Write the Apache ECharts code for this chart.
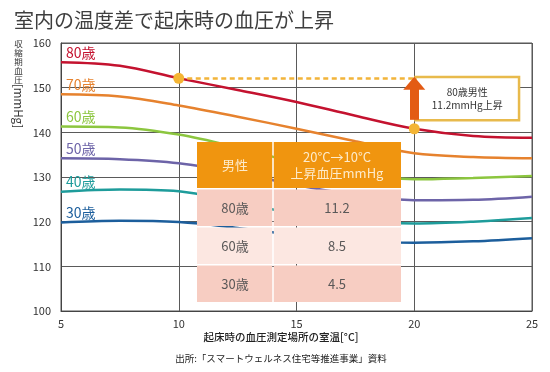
<!DOCTYPE html>
<html><head><meta charset="utf-8">
<script src="https://cdn.jsdelivr.net/npm/echarts@6/dist/echarts.min.js"></script>
<style>html,body{margin:0;padding:0;background:#fff}#c{width:550px;height:372px}</style>
</head><body><div id="c"></div>
<script>
// ---- data ----
const temps = [5, 7.5, 10, 12.5, 15, 17.5, 20, 22.5, 25];
const age80 = [155.7, 154.9, 152.1, 149.5, 146.8, 143.7, 140.8, 139.2, 138.8];
const age70 = [148.5, 148.0, 146.0, 143.5, 140.8, 138.0, 135.3, 134.5, 134.2];
const age60 = [141.3, 141.1, 139.5, 136.6, 133.2, 130.6, 129.5, 129.8, 130.2];
const age50 = [134.2, 134.0, 133.1, 131.0, 128.2, 126.0, 124.8, 124.9, 125.6];
const age40 = [126.7, 127.2, 126.8, 124.3, 121.8, 120.2, 119.6, 120.0, 120.8];
const age30 = [119.8, 120.2, 119.9, 118.6, 117.0, 115.7, 115.3, 115.6, 116.3];
const ageNames = ['80歳', '70歳', '60歳', '50歳', '40歳', '30歳'];
const tableHead = ['男性', '20°C→10°C\n上昇血圧mmHg'];
const tableAges = ['80歳', '60歳', '30歳'];
const tableRise = ['11.2', '8.5', '4.5'];
const riseFrom = [10, 152.1];
const riseTo = [20, 140.8];
const noteLines = ['80歳男性', '11.2mmHg上昇'];
const titleText = '室内の温度差で起床時の血圧が上昇';
const xName = '起床時の血圧測定場所の室温[°C]';
const yNameChars = '収縮期血圧';
const yNameUnit = '[mmHg]';
const sourceText = '出所:「スマートウェルネス住宅等推進事業」資料';

// ---- styles ----
const FONT = '"Noto Sans CJK JP", "Noto Sans", sans-serif';
const colors = ['#C4122F', '#E6822E', '#8CC63F', '#6D64A8', '#1E9C9B', '#1C5E9C'];
const allSeries = [age80, age70, age60, age50, age40, age30];

const series = allSeries.map((vals, k) => ({
  name: ageNames[k],
  type: 'line',
  smooth: 0.35,
  showSymbol: false,
  silent: true,
  z: 3,
  lineStyle: { color: colors[k], width: 2.5 },
  data: temps.map((t, i) => [t, vals[i]]),
  markPoint: {
    z: 4,
    silent: true,
    data: [{
      coord: [temps[0], vals[0]],
      symbol: 'circle', symbolSize: 0,
      label: {
        show: true, formatter: ageNames[k], position: 'right', distance: 5,
        offset: [0, -10], color: colors[k], fontSize: 14, fontFamily: FONT
      }
    }]
  }
}));

// annotation series (80歳 rise)
series.push({
  name: 'annot',
  type: 'line',
  data: [],
  silent: true,
  markLine: {
    silent: true,
    z: 6,
    label: { show: false },
    emphasis: { disabled: true },
    data: [
      [
        { coord: riseFrom, symbol: 'none', lineStyle: { color: '#F2B43A', width: 2.6, type: [5, 3.5] } },
        { coord: [riseTo[0], riseFrom[1]], symbol: 'none' }
      ],
      [
        { coord: [riseTo[0], riseTo[1] + 2.0], symbol: 'none', lineStyle: { color: '#E35B14', width: 9, type: 'solid' } },
        { coord: [riseTo[0], riseFrom[1] - 1.1], symbol: 'triangle', symbolSize: [22, 13] }
      ]
    ]
  },
  markArea: {
    silent: true,
    z: 5,
    emphasis: { disabled: true },
    data: [[
      {
        coord: [20.05, 152.4],
        itemStyle: { color: '#fff', opacity: 1, borderColor: '#E8BA4C', borderWidth: 2.5 },
        label: {
          show: true, position: 'inside', formatter: noteLines.join('\n'),
          color: '#333', fontSize: 10, lineHeight: 13, fontFamily: FONT, align: 'center'
        }
      },
      { coord: [24.45, 142.7] }
    ]]
  },
  markPoint: {
    silent: true,
    z: 8,
    data: [
      { coord: riseFrom, symbol: 'circle', symbolSize: 11, itemStyle: { color: '#F4B534' }, label: { show: false } },
      { coord: riseTo, symbol: 'circle', symbolSize: 11, itemStyle: { color: '#F4B534' }, label: { show: false } }
    ]
  }
});

// ---- table (graphic) ----
const tbl = { left: 197, mid: 273, right: 401, top: 142, headH: 46, rowH: 36.5, gap: 1.5 };
const gfx = [];
const rowColors = ['#F7CDC2', '#FCE7E1', '#F7CDC2'];
gfx.push({ type: 'rect', z: 100, shape: { x: tbl.left, y: tbl.top, width: tbl.mid - tbl.left - 0.75, height: tbl.headH }, style: { fill: '#F0950F' } });
gfx.push({ type: 'rect', z: 100, shape: { x: tbl.mid + 0.75, y: tbl.top, width: tbl.right - tbl.mid - 0.75, height: tbl.headH }, style: { fill: '#F0950F' } });
gfx.push({ type: 'text', z: 101, x: (tbl.left + tbl.mid) / 2, y: tbl.top + tbl.headH / 2,
  style: { text: tableHead[0], fill: '#FDEBCB', font: '13px ' + FONT, align: 'center', verticalAlign: 'middle' } });
gfx.push({ type: 'text', z: 101, x: (tbl.mid + tbl.right) / 2, y: tbl.top + tbl.headH / 2,
  style: { text: tableHead[1], fill: '#FDEBCB', font: '13px ' + FONT, lineHeight: 16, align: 'center', verticalAlign: 'middle' } });
tableAges.forEach((a, i) => {
  const y0 = tbl.top + tbl.headH + tbl.gap + i * (tbl.rowH + tbl.gap);
  gfx.push({ type: 'rect', z: 100, shape: { x: tbl.left, y: y0, width: tbl.mid - tbl.left - 0.75, height: tbl.rowH }, style: { fill: rowColors[i] } });
  gfx.push({ type: 'rect', z: 100, shape: { x: tbl.mid + 0.75, y: y0, width: tbl.right - tbl.mid - 0.75, height: tbl.rowH }, style: { fill: rowColors[i] } });
  gfx.push({ type: 'text', z: 101, x: (tbl.left + tbl.mid) / 2, y: y0 + tbl.rowH / 2,
    style: { text: a, fill: '#5A5858', font: '13px ' + FONT, align: 'center', verticalAlign: 'middle' } });
  gfx.push({ type: 'text', z: 101, x: (tbl.mid + tbl.right) / 2, y: y0 + tbl.rowH / 2,
    style: { text: tableRise[i], fill: '#5A5858', font: '13px ' + FONT, align: 'center', verticalAlign: 'middle' } });
});
// y axis name (vertical)
gfx.push({ type: 'text', z: 50, x: 18.5, y: 39,
  style: { text: yNameChars.split('').join('\n'), fill: '#333', font: '8.5px ' + FONT, lineHeight: 9, align: 'center', verticalAlign: 'top' } });
gfx.push({ type: 'text', z: 50, x: 18.5, y: 106, rotation: -Math.PI / 2,
  style: { text: yNameUnit, fill: '#333', font: '11.5px ' + FONT, align: 'center', verticalAlign: 'middle' } });
// x axis name & source
gfx.push({ type: 'text', z: 50, x: 281, y: 337,
  style: { text: xName, fill: '#222', font: '500 10.5px ' + FONT, align: 'center', verticalAlign: 'middle' } });
gfx.push({ type: 'text', z: 50, x: 281, y: 358.5,
  style: { text: sourceText, fill: '#222', font: '9.5px ' + FONT, align: 'center', verticalAlign: 'middle' } });

const chart = echarts.init(document.getElementById('c'), null, { renderer: 'canvas' });
chart.setOption({
  animation: false,
  backgroundColor: '#fff',
  textStyle: { fontFamily: FONT },
  title: {
    text: titleText, left: 9, top: 5,
    textStyle: { fontSize: 20, fontWeight: 'normal', color: '#3E3E3E', fontFamily: FONT }
  },
  grid: { left: 61, right: 18, top: 43, bottom: 61, show: true, borderColor: '#555', borderWidth: 1 },
  xAxis: {
    type: 'value', min: 5, max: 25, interval: 5,
    axisLine: { show: true, lineStyle: { color: '#444', width: 1 } },
    axisTick: { show: false },
    axisLabel: { color: '#333', fontSize: 11, margin: 7, fontFamily: FONT },
    splitLine: { show: true, lineStyle: { color: '#5A5A5A', width: 1 } }
  },
  yAxis: {
    type: 'value', min: 100, max: 160, interval: 10,
    axisLine: { show: true, lineStyle: { color: '#444', width: 1 } },
    axisTick: { show: false },
    axisLabel: { color: '#333', fontSize: 11, margin: 10, fontFamily: FONT },
    splitLine: { show: true, lineStyle: { color: '#5A5A5A', width: 1 } }
  },
  series: series,
  graphic: { elements: gfx }
});
</script>
</body></html>
